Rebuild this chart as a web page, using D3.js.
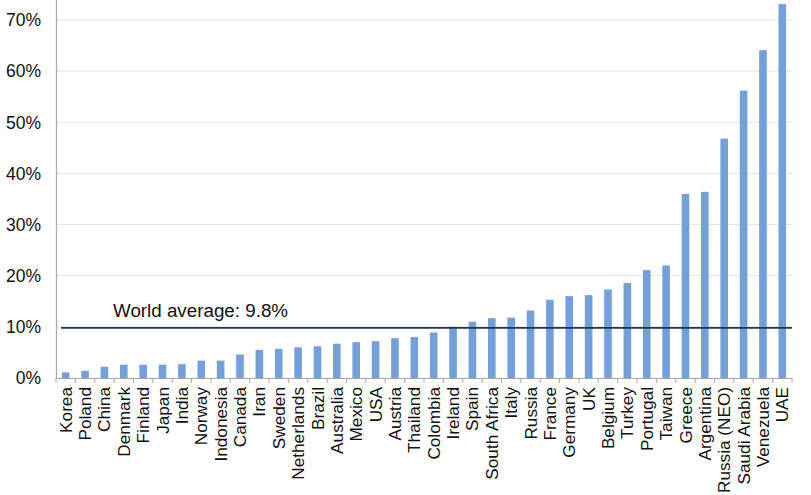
<!DOCTYPE html>
<html>
<head>
<meta charset="utf-8">
<script src="https://cdn.jsdelivr.net/npm/d3@7"></script>
<style>
  html, body { margin: 0; padding: 0; background: #fff; }
  svg { display: block; }
</style>
</head>
<body>
<svg id="chart" width="811" height="495"></svg>
<script>
const countries = ["Korea","Poland","China","Denmark","Finland","Japan","India","Norway","Indonesia","Canada","Iran","Sweden","Netherlands","Brazil","Australia","Mexico","USA","Austria","Thailand","Colombia","Ireland","Spain","South Africa","Italy","Russia","France","Germany","UK","Belgium","Turkey","Portugal","Taiwan","Greece","Argentina","Russia (NEO)","Saudi Arabia","Venezuela","UAE"];
const values = [1.1,1.4,2.2,2.6,2.6,2.6,2.7,3.4,3.4,4.6,5.5,5.7,6.0,6.2,6.7,7.0,7.2,7.8,8.0,8.9,10.0,11.0,11.7,11.8,13.2,15.3,16.0,16.2,17.3,18.6,21.1,22.0,36.0,36.4,46.8,56.2,64.1,73.1];
const yTicks = [0,10,20,30,40,50,60,70];
const worldAverage = 9.8;
const worldLabel = "World average: 9.8%";

const svg = d3.select("#chart");
const x0 = 56, x1 = 792, yBase = 378;
const y = d3.scaleLinear().domain([0, 70]).range([yBase, 20]);
const xb = d3.scaleBand().domain(countries).range([x0, x1]);
const font = "Liberation Sans, Arial, sans-serif";

// gridlines
svg.append("g").selectAll("line").data(yTicks.filter(d => d > 0)).join("line")
  .attr("x1", x0).attr("x2", x1)
  .attr("y1", d => y(d)).attr("y2", d => y(d))
  .attr("stroke", "#e4e4e4").attr("stroke-width", 1);

// y labels
svg.append("g").selectAll("text").data(yTicks).join("text")
  .attr("x", 41).attr("y", d => y(d))
  .attr("dy", "0.36em")
  .attr("text-anchor", "end")
  .attr("font-family", font)
  .attr("font-size", 17.5)
  .attr("fill", "#111")
  .text(d => d + "%");

// bars
svg.append("g").selectAll("rect").data(countries).join("rect")
  .attr("x", d => xb(d) + xb.bandwidth()/2 - 3.8)
  .attr("width", 7.6)
  .attr("y", (d, i) => y(values[i]))
  .attr("height", (d, i) => yBase - y(values[i]))
  .attr("fill", "#739fdb");

// y axis line
svg.append("line").attr("x1", x0 + 0.5).attr("x2", x0 + 0.5).attr("y1", 0).attr("y2", yBase)
  .attr("stroke", "#a8a8a8").attr("stroke-width", 1.2);

// x axis line + ticks
svg.append("line").attr("x1", x0).attr("x2", x1).attr("y1", yBase + 0.5).attr("y2", yBase + 0.5)
  .attr("stroke", "#a8a8a8").attr("stroke-width", 1.2);
const tickPos = countries.map(c => xb(c)).concat([x1]);
svg.append("g").selectAll("line").data(tickPos).join("line")
  .attr("x1", d => d).attr("x2", d => d)
  .attr("y1", yBase).attr("y2", yBase + 5)
  .attr("stroke", "#a8a8a8").attr("stroke-width", 1);

// x labels
svg.append("g").selectAll("text").data(countries).join("text")
  .attr("transform", d => `translate(${xb(d) + xb.bandwidth()/2},${yBase + 9}) rotate(-90)`)
  .attr("dy", "0.35em")
  .attr("text-anchor", "end")
  .attr("font-family", font)
  .attr("font-size", 17.2)
  .attr("fill", "#111")
  .text(d => d);

// world average line
svg.append("line")
  .attr("x1", 61).attr("x2", x1)
  .attr("y1", y(worldAverage)).attr("y2", y(worldAverage))
  .attr("stroke", "#1e3652").attr("stroke-width", 1.6);
svg.append("text")
  .attr("x", 113).attr("y", 317)
  .attr("font-family", font)
  .attr("font-size", 18.8)
  .attr("fill", "#111")
  .text(worldLabel);
</script>
</body>
</html>
